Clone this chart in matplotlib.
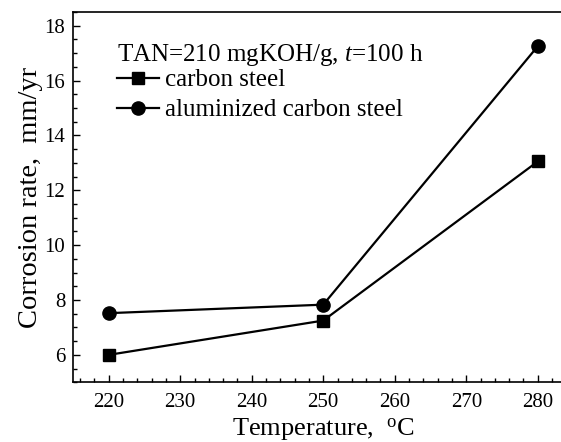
import matplotlib
matplotlib.use("Agg")
import matplotlib.pyplot as plt
from matplotlib.ticker import MultipleLocator

plt.rcParams['font.family'] = ['Liberation Serif', 'DejaVu Serif']
plt.rcParams['mathtext.fontset'] = 'custom'
plt.rcParams['mathtext.rm'] = 'Liberation Serif'
plt.rcParams['mathtext.it'] = 'Liberation Serif:italic'

temperature = [220, 250, 280]
carbon_steel = [6.0, 7.25, 13.05]
aluminized_steel = [7.52, 7.83, 17.25]

fig = plt.figure(figsize=(5.61, 4.42), dpi=100)
ax = fig.add_axes([0.1301, 0.1351, 0.8922, 0.8378])

ax.plot(temperature, carbon_steel, color='black', lw=1.6, marker='s',
        markersize=8, label='carbon steel')
ax.plot(temperature, aluminized_steel, color='black', lw=1.6, marker='o',
        markersize=9.5, label='aluminized carbon steel')

ax.set_xlim(215, 285)
ax.set_ylim(5, 18.5)
ax.xaxis.set_major_locator(MultipleLocator(10))
ax.xaxis.set_minor_locator(MultipleLocator(2))
ax.yaxis.set_major_locator(MultipleLocator(2))
ax.yaxis.set_minor_locator(MultipleLocator(0.5))
ax.tick_params(which='both', direction='in', top=False, right=False,
               labelsize=15, width=1.0)
ax.tick_params(which='major', length=5)
ax.tick_params(which='minor', length=3)
ax.tick_params(axis='x', pad=8)
ax.tick_params(axis='y', pad=5.5)
for s in ax.spines.values():
    s.set_linewidth(1.2)

ax.set_xlabel('Temperature,  $^{\\rm o}$C', fontsize=19, labelpad=2.5)
ax.set_ylabel('Corrosion rate,  mm/yr', fontsize=20.5, labelpad=1)

leg = ax.legend(title='TAN=210 mgKOH/g, $t$=100 h', loc='upper left',
                bbox_to_anchor=(0.087, 0.92), frameon=False, fontsize=18,
                title_fontsize=18, handlelength=1.7, handletextpad=0.25,
                labelspacing=0.3, borderaxespad=0, borderpad=0)
leg._legend_box.align = 'left'
leg._legend_box.sep = 1

fig.savefig('out.png', dpi=100)
